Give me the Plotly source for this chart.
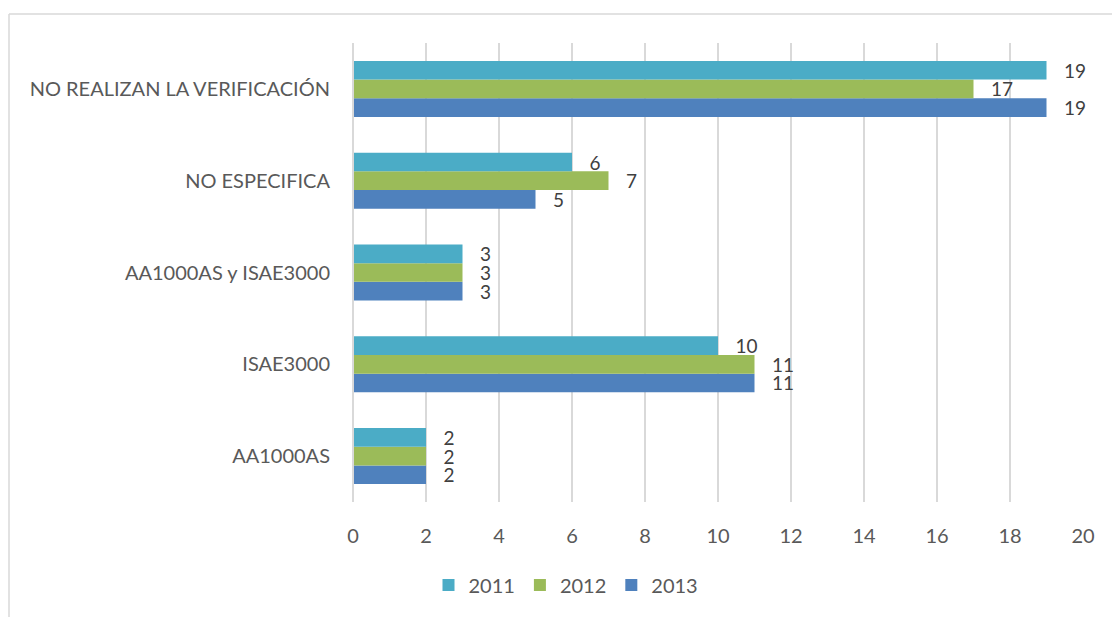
import plotly.graph_objects as go

categories = ["AA1000AS", "ISAE3000", "AA1000AS y ISAE3000", "NO ESPECIFICA", "NO REALIZAN LA VERIFICACIÓN"]
v2011 = [2, 10, 3, 6, 19]
v2012 = [2, 11, 3, 7, 17]
v2013 = [2, 11, 3, 5, 19]
x_ticks = [0, 2, 4, 6, 8, 10, 12, 14, 16, 18, 20]

colors = {"2011": "#4BACC6", "2012": "#9BBB59", "2013": "#4F81BD"}
FONT = "Lato, Open Sans, sans-serif"

fig = go.Figure()
for name, vals in [("2013", v2013), ("2012", v2012), ("2011", v2011)]:
    fig.add_trace(go.Bar(
        y=categories, x=vals, name=name, orientation="h",
        marker=dict(color=colors[name], line=dict(width=0)),
        text=vals, texttemplate="   %{x}", textposition="outside",
        constraintext="none",
        textfont=dict(size=19, color="#404040", family=FONT),
        cliponaxis=False,
    ))

# plot area in px: x 353..1083, y 43..502
W, H = 1112, 617
l, r, t, b = 353, 29, 43, 115
pw, ph = W - l - r, H - t - b
fx = lambda px: (px - l) / pw
fy = lambda py: (H - b - py) / ph

fig.update_layout(
    width=W, height=H,
    margin=dict(l=l, r=r, t=t, b=b),
    barmode="group", bargap=0.39, bargroupgap=0,
    plot_bgcolor="white", paper_bgcolor="white",
    font=dict(family=FONT, size=20, color="#595959"),
    showlegend=True,
    legend=dict(orientation="h", traceorder="reversed", xref="container", x=0.5 + 10 / W, xanchor="center",
                yref="container", y=32 / H, yanchor="middle",
                font=dict(size=20, color="#595959"), itemwidth=30),
    xaxis=dict(range=[0, 20], tickvals=x_ticks, showgrid=True, gridcolor="#D9D9D9", gridwidth=1.5,
               zeroline=False, showline=False, ticks="", ticklabelstandoff=20,
               tickfont=dict(size=20, color="#595959")),
    yaxis=dict(showgrid=False, zeroline=False, showline=False, ticks="",
               ticklabelstandoff=22, tickfont=dict(size=20, color="#595959")),
    shapes=[
        dict(type="line", xref="paper", yref="paper", x0=fx(353), x1=fx(353), y0=0, y1=1,
             line=dict(color="#D9D9D9", width=2), layer="above"),
        dict(type="line", xref="paper", yref="paper", x0=fx(9), x1=fx(9), y0=fy(14), y1=fy(640),
             line=dict(color="#D9D9D9", width=1.5)),
        dict(type="line", xref="paper", yref="paper", x0=fx(9), x1=fx(1130), y0=fy(14), y1=fy(14),
             line=dict(color="#D9D9D9", width=1.5)),
    ],
)

fig.write_html("out.html", config={"displayModeBar": False},
               post_script="document.body.style.margin='0';document.body.style.overflow='hidden';")
